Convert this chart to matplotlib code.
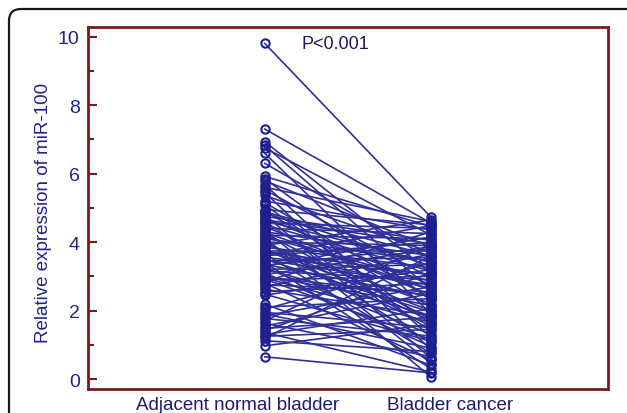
import matplotlib
matplotlib.use("Agg")
import matplotlib.pyplot as plt
from matplotlib.patches import FancyBboxPatch
from matplotlib.ticker import MultipleLocator

plt.rcParams['font.family'] = ['Liberation Sans', 'DejaVu Sans']

groups = ["Adjacent normal bladder", "Bladder cancer"]
normal = [9.80, 7.30, 6.93, 6.82, 6.75, 6.59, 6.30, 5.92, 5.85, 5.79,
          5.68, 5.60, 5.52, 5.45, 5.36, 5.20, 5.09, 4.95, 4.90, 4.85,
          4.80, 4.75, 4.70, 4.65, 4.60, 4.55, 4.50, 4.45, 4.40, 4.35,
          4.30, 4.25, 4.20, 4.15, 4.10, 4.05, 4.00, 3.95, 3.90, 3.85,
          3.80, 3.75, 3.70, 3.65, 3.60, 3.55, 3.50, 3.45, 3.40, 3.35,
          3.30, 3.25, 3.20, 3.15, 3.10, 3.05, 3.00, 2.95, 2.90, 2.85,
          2.80, 2.75, 2.70, 2.62, 2.55, 2.48, 2.45, 2.19, 2.10, 2.04,
          1.95, 1.90, 1.85, 1.77, 1.70, 1.63, 1.55, 1.48, 1.42, 1.36,
          1.30, 1.25, 1.20, 1.12, 0.97, 0.65, 4.62, 4.28, 3.98, 3.72,
          3.48, 3.22, 2.98, 4.88, 5.15, 3.62, 2.92, 4.12, 3.78, 3.32]
cancer = [4.72, 4.55, 3.10, 2.60, 4.20, 1.90, 3.50, 4.45, 2.30, 3.85,
          1.20, 4.60, 2.95, 0.85, 3.70, 4.35, 1.60, 4.50, 2.10, 3.30,
          0.60, 4.05, 2.75, 3.95, 1.40, 4.40, 3.15, 2.45, 4.25, 0.45,
          3.60, 1.75, 4.10, 2.85, 3.45, 1.05, 3.90, 2.20, 4.65, 3.25,
          1.55, 3.75, 2.65, 0.75, 4.00, 3.05, 1.95, 3.55, 0.30, 2.40,
          4.15, 1.30, 3.35, 2.90, 0.95, 3.80, 2.15, 1.65, 3.00, 4.30,
          0.55, 2.55, 3.65, 1.85, 2.80, 1.10, 3.20, 0.40, 2.35, 3.40,
          1.50, 0.90, 2.70, 1.25, 3.95, 0.65, 2.50, 1.80, 3.10, 0.20,
          2.05, 1.45, 3.60, 0.80, 1.60, 0.18, 3.40, 2.60, 1.70, 3.05,
          2.75, 1.85, 2.45, 3.60, 2.35, 4.48, 1.15, 0.05, 2.00, 3.85]
p_text = "P<0.001"
y_label = "Relative expression of miR-100"

W, H = 627, 414
fig = plt.figure(figsize=(W / 100, H / 100), dpi=100)

# outer rounded frame
frame = FancyBboxPatch((9 / 100, -1.0), 8.0, (H - 10) / 100 + 1.0,
                       boxstyle="round,pad=0,rounding_size=0.12",
                       transform=fig.dpi_scale_trans, fill=False,
                       edgecolor='#1a1a1a', linewidth=1.6, clip_on=False)
fig.patches.append(frame)

ax = fig.add_axes([88 / W, 1 - 390 / H, (608 - 88) / W, (390 - 28) / H])

line_color = '#30309a'
edge_color = '#1e1e8c'
for a, b in zip(normal, cancer):
    ax.plot([1, 2], [a, b], color=line_color, linewidth=1.2, zorder=2)
ax.plot([1] * len(normal), normal, linestyle='none', marker='o',
        markersize=6.0, markerfacecolor='none', markeredgecolor=edge_color,
        markeredgewidth=1.5, zorder=3)
ax.plot([2] * len(cancer), cancer, linestyle='none', marker='o',
        markersize=6.0, markerfacecolor='none', markeredgecolor=edge_color,
        markeredgewidth=1.5, zorder=3)

ax.set_xlim(-0.0625, 3.0625)
ax.set_ylim(-0.29, 10.28)

spine_color = '#7a1a1a'
for s in ax.spines.values():
    s.set_color(spine_color)
    s.set_linewidth(2.0)

ax.yaxis.set_major_locator(MultipleLocator(2))
ax.yaxis.set_minor_locator(MultipleLocator(1))
ax.tick_params(axis='y', which='major', direction='in', length=6.5, width=1.5,
               color=spine_color, labelcolor='#22228c', labelsize=14, pad=6)
ax.tick_params(axis='y', which='minor', direction='in', length=4, width=1.5,
               color=spine_color)
ax.set_xticks([])

fig.text(43 / W, 1 - 213 / H, y_label, rotation=90, ha='center', va='center',
         fontsize=13.5, color='#22228c')
ax.text((238 - 88) / 520, -0.019, groups[0], transform=ax.transAxes,
        ha='center', va='top', fontsize=13.5, color='#1c1c6e')
ax.text((450 - 88) / 520, -0.019, groups[1], transform=ax.transAxes,
        ha='center', va='top', fontsize=13.5, color='#1c1c6e')
ax.text((335 - 88) / 520, 9.55, p_text, ha='center', va='bottom',
        fontsize=13, color='#1a1a5a', transform=ax.get_yaxis_transform())

fig.savefig("out.png", dpi=100)
